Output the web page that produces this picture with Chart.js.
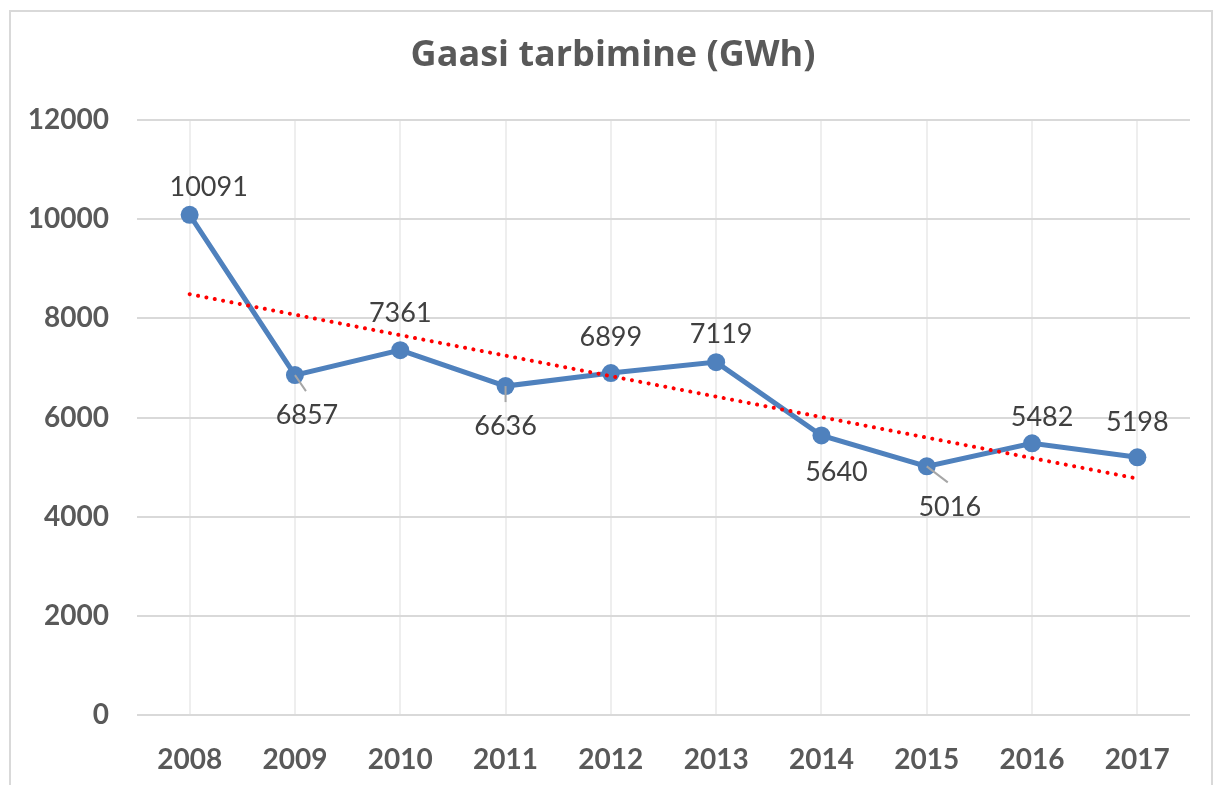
<!DOCTYPE html>
<html>
<head>
<meta charset="utf-8">
<script src="https://cdn.jsdelivr.net/npm/chart.js@4.4.1/dist/chart.umd.min.js"></script>
<style>
  html, body { margin: 0; padding: 0; background: #fff; }
  #wrap { width: 1215px; height: 785px; position: relative; }
</style>
</head>
<body>
<div id="wrap"><canvas id="graafik"></canvas></div>
<script>
const aastad = ['2008', '2009', '2010', '2011', '2012', '2013', '2014', '2015', '2016', '2017'];
const tarbimine = [10091, 6857, 7361, 6636, 6899, 7119, 5640, 5016, 5482, 5198];
// trendijoone otspunktid (loetud pildilt)
const trendAlgus = 8490;
const trendLopp = 4770;
const yTicks = [0, 2000, 4000, 6000, 8000, 10000, 12000];

const trend = aastad.map((a, i) => i === 0 ? trendAlgus : (i === aastad.length - 1 ? trendLopp : null));

// sildi nihked punkti suhtes (px) ja juhtjooned
const sildiNihe = [[19, -28], [12, 40], [0, -37], [0, 40], [0, -36], [5, -28], [15, 37], [23, 41], [10, -26], [0, -35]];
const juhtjooned = { 1: [11, 16], 3: [0, 16], 7: [21, 16] };

const raamPlugin = {
  id: 'raam',
  afterLayout(chart) {
    // pealkiri on originaalis veidi paremale nihutatud
    const t = chart.titleBlock;
    if (t) { t.left += 13; t.right += 13; }
  },
  beforeDraw(chart) {
    const ctx = chart.ctx;
    ctx.save();
    ctx.fillStyle = '#ffffff';
    ctx.fillRect(0, 0, chart.width, chart.height);
    ctx.strokeStyle = '#D9D9D9';
    ctx.lineWidth = 2;
    ctx.strokeRect(10, 11, 1202, 800);
    ctx.restore();
  }
};

const siltPlugin = {
  id: 'sildid',
  afterDatasetsDraw(chart) {
    const ctx = chart.ctx;
    const meta = chart.getDatasetMeta(1);
    ctx.save();
    meta.data.forEach((p, i) => {
      const j = juhtjooned[i];
      if (j) {
        ctx.strokeStyle = '#A6A6A6';
        ctx.lineWidth = 2;
        ctx.beginPath();
        ctx.moveTo(p.x, p.y);
        ctx.lineTo(p.x + j[0], p.y + j[1]);
        ctx.stroke();
      }
      const n = sildiNihe[i];
      ctx.fillStyle = '#404040';
      ctx.font = '27px Lato';
      ctx.textAlign = 'center';
      ctx.textBaseline = 'middle';
      ctx.fillText(String(tarbimine[i]), p.x + n[0], p.y + n[1]);
    });
    ctx.restore();
  }
};

new Chart(document.getElementById('graafik'), {
  type: 'line',
  data: {
    labels: aastad,
    datasets: [
      {
        label: 'Trend',
        data: trend,
        spanGaps: true,
        borderColor: '#FF0000',
        borderWidth: 4,
        borderDash: [0.1, 8.4],
        borderCapStyle: 'round',
        pointRadius: 0,
        fill: false,
        order: 0
      },
      {
        label: 'Gaasi tarbimine',
        data: tarbimine,
        borderColor: '#4F81BD',
        backgroundColor: '#4F81BD',
        borderWidth: 5,
        pointRadius: 9,
        pointBackgroundColor: '#4F81BD',
        pointBorderWidth: 0,
        fill: false,
        tension: 0,
        order: 1
      }
    ]
  },
  options: {
    responsive: true,
    maintainAspectRatio: false,
    animation: false,
    layout: { padding: { left: 10, right: 25, top: 0, bottom: 0 } },
    plugins: {
      legend: { display: false },
      tooltip: { enabled: false },
      title: {
        display: true,
        text: 'Gaasi tarbimine (GWh)',
        color: '#595959',
        font: { family: '"Open Sans"', size: 36, weight: 'bold', lineHeight: 1.2 },
        padding: { top: 34, bottom: 43 }
      }
    },
    scales: {
      x: {
        offset: true,
        grid: { offset: false, color: '#EEEEEE', lineWidth: 2, drawTicks: false },
        border: { display: false },
        ticks: { color: '#595959', font: { family: 'Lato', size: 28, weight: 'bold' }, padding: 28 },
        afterFit(scale) { scale.height = 70; }
      },
      y: {
        min: 0,
        max: 12000,
        afterBuildTicks(scale) { scale.ticks = yTicks.map(v => ({ value: v })); },
        grid: { color: '#D9D9D9', lineWidth: 2, drawTicks: false },
        border: { display: false },
        ticks: {
          color: '#595959',
          font: { family: 'Lato', size: 28, weight: 'bold' },
          padding: 28,
          callback: v => String(v)
        },
        afterFit(scale) { scale.width = 127; }
      }
    }
  },
  plugins: [raamPlugin, siltPlugin]
});
</script>
</body>
</html>
